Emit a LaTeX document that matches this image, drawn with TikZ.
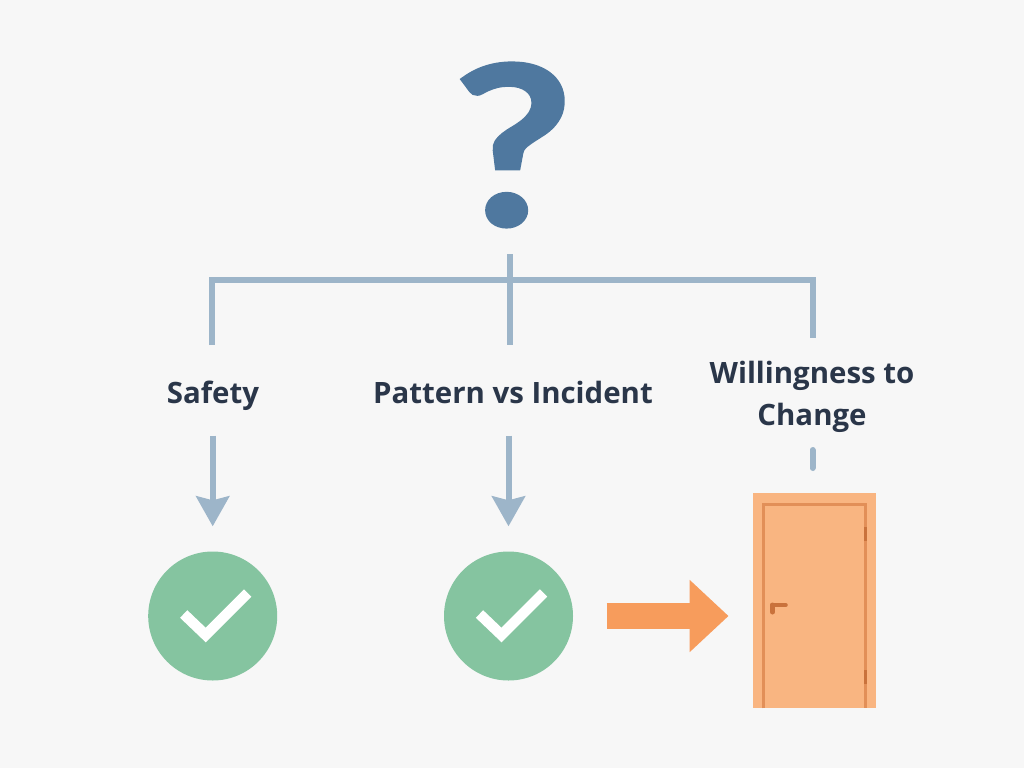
\documentclass[tikz,border=0pt]{standalone}
\usepackage{fontspec}
\setmainfont{Open Sans}
\newfontfamily\qfont[FakeStretch=1.18,FakeBold=1.5]{Lato Bold}
\usepackage{xcolor}
\usetikzlibrary{arrows.meta,positioning}
\definecolor{bgcol}{HTML}{F7F7F7}
\definecolor{bluecol}{HTML}{4F789F}
\definecolor{linecol}{HTML}{9DB5C9}
\definecolor{textcol}{HTML}{2A3649}
\definecolor{greencol}{HTML}{85C4A0}
\definecolor{orangecol}{HTML}{F79C5C}
\definecolor{doorcol}{HTML}{F9B581}
\definecolor{framecol}{HTML}{E28F58}
\definecolor{hingecol}{HTML}{C9723C}
\tikzset{
  label/.style={text=textcol,font=\fontsize{29.4}{42}\selectfont\bfseries,align=center,inner sep=0pt},
  bus/.style={draw=linecol,line width=6pt},
  flow/.style={bus,-{Stealth[length=30pt,width=33pt,inset=4pt]}},
  okcircle/.style={circle,fill=greencol,minimum size=129pt,inner sep=0pt},
  tick/.style={draw=white,line width=10.5pt,miter limit=4},
  go/.style={draw=orangecol,line width=26.3pt,-{Triangle[length=39pt,width=70pt]}}
}
\begin{document}
\begin{tikzpicture}[x=1pt,y=-1pt]
    \useasboundingbox[fill=bgcol] (0,0) rectangle (1024,768);

    \node[text=bluecol,inner sep=0pt,font=\fontsize{222}{222}\qfont] (quest) at (513,145) {?};

    \coordinate (top) at (509.7,254);
    \coordinate (joint) at (509.7,279.5);
    \coordinate (busL) at (212,279.5);
    \coordinate (busR) at (812.5,279.5);
    \coordinate (endL) at (212,345);
    \coordinate (endM) at (509.7,345);
    \coordinate (endR) at (812.5,338);
    \coordinate (stubT) at (812.5,450);
    \coordinate (stubB) at (812.5,468);

    \node[label,text height=22pt,text depth=7pt] (safety) at (213,396) {Safety};
    \node[label,text height=22pt,text depth=7pt] (pattern) at (513,396) {Pattern vs Incident};
    \node[label] (willing) at (812,397) {Willingness to\\Change};

    \node[okcircle] (chkA) at (212.7,616) {};
    \node[okcircle] (chkB) at (508.5,616) {};
    \node[fill=doorcol,minimum width=122.7pt,minimum height=215pt,inner sep=0pt] (door) at (814.7,600.8) {};

    \draw[bus] (endL) -- (busL) -- (busR) -- (endR);
    \draw[bus] (top) -- (joint) -- (endM);
    \draw[bus,line cap=round] (stubT) -- (stubB);

    \draw[flow,shorten <=25pt,shorten >=25pt] (safety.south -| chkA) -- (chkA.north);
    \draw[flow,shorten <=25pt,shorten >=25pt] (pattern.south -| chkB) -- (chkB.north);
    \draw[go,shorten <=33.5pt,shorten >=24.6pt] (chkB.east) -- (chkB.east -| door.west);

    \draw[tick] ([shift={(-29,-2)}]chkA.center) -- ([shift={(-7,19)}]chkA.center) -- ([shift={(35,-23)}]chkA.center);
    \draw[tick] ([shift={(-29,-2)}]chkB.center) -- ([shift={(-7,19)}]chkB.center) -- ([shift={(35,-23)}]chkB.center);

    % door details
    \draw[framecol,line width=2.5pt] (763.5,708.3) -- (763.5,504.5) -- (865.7,504.5) -- (865.7,708.3);
    \fill[hingecol] (863.7,526.7) rectangle (867.3,540.7);
    \fill[hingecol] (863.7,670) rectangle (867.3,684);
    \draw[hingecol,line width=3.5pt,line cap=round] (772,605) -- (786,605);
    \draw[hingecol,line width=5pt,line cap=round] (772.5,605) -- (772.5,612);
\end{tikzpicture}
\end{document}
